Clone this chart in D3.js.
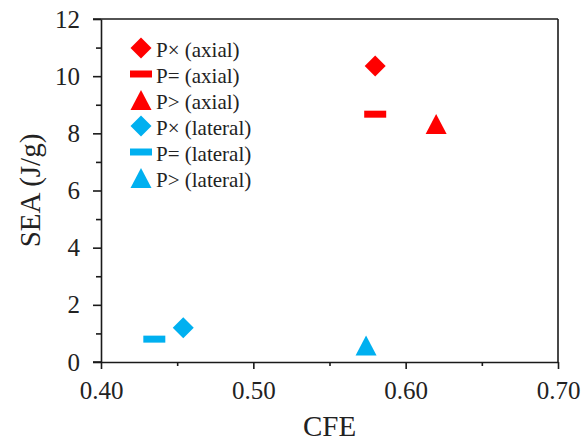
<!DOCTYPE html>
<html>
<head>
<meta charset="utf-8">
<script src="https://cdn.jsdelivr.net/npm/d3@7"></script>
<style>
  html, body { margin: 0; padding: 0; background: #fff; }
  svg { display: block; }
</style>
</head>
<body>
<script>
// ---- data ----
const seriesNames = ["P\u00d7 (axial)", "P= (axial)", "P> (axial)", "P\u00d7 (lateral)", "P= (lateral)", "P> (lateral)"];
const seriesShapes = ["diamond", "dash", "triangle", "diamond", "dash", "triangle"];
const seriesColors = ["#FF0000", "#FF0000", "#FF0000", "#00B0F0", "#00B0F0", "#00B0F0"];
const cfeValues = [0.580, 0.580, 0.620, 0.454, 0.435, 0.574];
const seaValues = [10.36, 8.67, 8.33, 1.20, 0.80, 0.58];
const xTicks = [0.40, 0.50, 0.60, 0.70];
const xMinorTicks = [0.45, 0.55, 0.65];
const yTicks = [0, 2, 4, 6, 8, 10, 12];
const yMinorTicks = [1, 3, 5, 7, 9, 11];

const W = 583, H = 447;
const L = 101, R = 558, T = 19, B = 362;
const FONT = "Liberation Serif, Times New Roman, serif";
const axisColor = "#1a1a1a";

const svg = d3.select("body").append("svg").attr("width", W).attr("height", H)
  .attr("font-family", FONT);

const x = d3.scaleLinear().domain([0.4, 0.7]).range([L, R]);
const y = d3.scaleLinear().domain([0, 12]).range([B, T]);

function shapePath(shape) {
  if (shape === "diamond") return "M0,-10.5L10.5,0L0,10.5L-10.5,0Z";
  if (shape === "dash") return "M-11,-3.5H11V3.5H-11Z";
  return "M0,-10L10.5,10H-10.5Z";
}

// frame top/right
svg.append("line").attr("x1", L - 8).attr("x2", R).attr("y1", T).attr("y2", T)
  .attr("stroke", axisColor).attr("stroke-width", 1.6);
svg.append("line").attr("x1", R).attr("x2", R).attr("y1", T).attr("y2", B)
  .attr("stroke", axisColor).attr("stroke-width", 1.6);

// x axis
svg.append("g").attr("transform", `translate(0,${B})`)
  .call(d3.axisBottom(x).tickValues(xTicks).tickFormat(d3.format(".2f")).tickSizeInner(7).tickSizeOuter(0).tickPadding(12));
const xMinor = svg.append("g").attr("transform", `translate(0,${B})`)
  .call(d3.axisBottom(x).tickValues(xMinorTicks).tickFormat("").tickSizeInner(4).tickSizeOuter(0));
xMinor.select(".domain").remove();

// y axis
svg.append("g").attr("transform", `translate(${L},0)`)
  .call(d3.axisLeft(y).tickValues(yTicks).tickFormat(d3.format("d")).tickSizeInner(8).tickSizeOuter(0).tickPadding(13));
const yMinor = svg.append("g").attr("transform", `translate(${L},0)`)
  .call(d3.axisLeft(y).tickValues(yMinorTicks).tickFormat("").tickSizeInner(5).tickSizeOuter(0));
yMinor.select(".domain").remove();

svg.selectAll("g").attr("font-family", FONT);
svg.selectAll(".domain").attr("stroke", axisColor).attr("stroke-width", 1.6);
svg.selectAll(".tick line").attr("stroke", axisColor).attr("stroke-width", 1.6);
svg.selectAll(".tick text").attr("font-family", FONT).attr("font-size", 25).attr("fill", "#222");
svg.append("line").attr("x1", L - 8).attr("x2", L).attr("y1", B).attr("y2", B)
  .attr("stroke", axisColor).attr("stroke-width", 1.6);

// axis titles
svg.append("text").attr("x", (L + R) / 2).attr("y", 436).attr("text-anchor", "middle")
  .attr("font-family", FONT).attr("font-size", 29).attr("fill", "#222").text("CFE");
svg.append("text").attr("transform", `translate(40,${(T + B) / 2}) rotate(-90)`)
  .attr("text-anchor", "middle").attr("font-family", FONT).attr("font-size", 29).attr("fill", "#222")
  .text("SEA (J/g)");

// points
const data = seriesNames.map((n, i) => ({ name: n, shape: seriesShapes[i], color: seriesColors[i], cfe: cfeValues[i], sea: seaValues[i] }));
svg.append("g").selectAll("path").data(data).join("path")
  .attr("d", d => shapePath(d.shape))
  .attr("transform", d => `translate(${x(d.cfe)},${y(d.sea)})`)
  .attr("fill", d => d.color);

// legend
const legend = svg.append("g").attr("transform", "translate(141,48)");
const rows = legend.selectAll("g").data(data).join("g")
  .attr("transform", (d, i) => `translate(0,${i * 26})`);
rows.append("path").attr("d", d => shapePath(d.shape)).attr("fill", d => d.color);
rows.append("text").attr("x", 15).attr("y", 8.5).attr("font-family", FONT).attr("font-size", 21)
  .attr("fill", "#222").text(d => d.name);
</script>
</body>
</html>
